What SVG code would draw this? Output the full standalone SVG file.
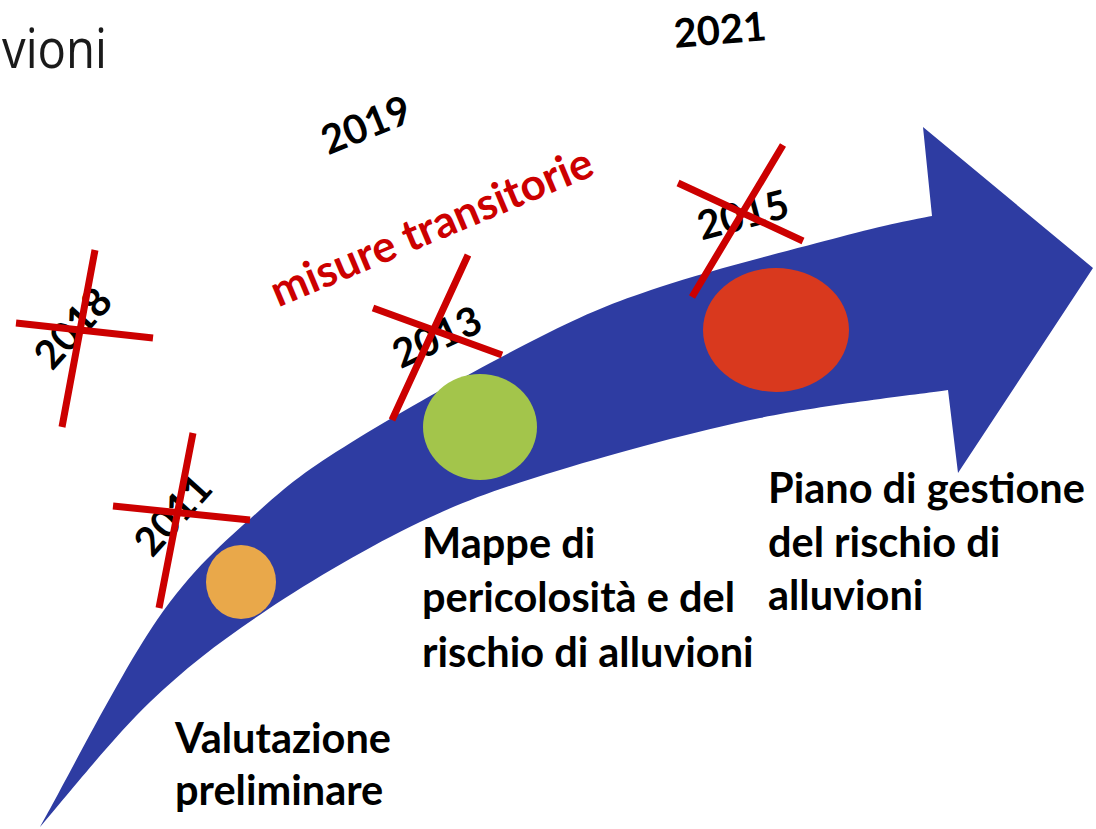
<svg xmlns="http://www.w3.org/2000/svg" width="1096" height="829" viewBox="0 0 1096 829">
<style>
.yr{font-family:Lato,"Liberation Sans",sans-serif;font-weight:bold;font-size:40px;fill:#000;text-anchor:middle}
.lbl{font-family:Lato,"Liberation Sans",sans-serif;font-weight:bold;font-size:41.5px;fill:#000}
.x{stroke:#CC0000;stroke-width:7;fill:none}
</style>
<rect width="1096" height="829" fill="#fff"/>
<text id="title" x="2" y="68" textLength="105" lengthAdjust="spacingAndGlyphs" style="font-family:'Open Sans',sans-serif;font-size:54px;fill:#1a1a1a">vioni</text>
<g id="arrow">
<path fill="#2E3CA2" d="M40,827 C59.5,793.3 120.3,673 157,620 C193.7,567 226.2,540.5 260,510 C293.8,479.5 313.3,465.8 360,437 C406.7,408.2 490,362 540,337 C590,312 610,303.7 660,287 C710,270.3 794.7,249 840,237 C885.3,225 916.7,218.7 932,216 L923,127 L1093,268 L958,473 L948,390 C916.7,394.7 824.7,404.7 760,418 C695.3,431.3 616.7,452.7 560,470 C503.3,487.3 468.8,498.7 420,522 C371.2,545.3 312,580 267,610 C222,640 187.8,665.8 150,702 C112.2,738.2 58.3,806.2 40,827 Z"/>
</g>
<g id="milestones">
<ellipse id="dot-orange" cx="241" cy="582" rx="35" ry="37" fill="#E9A84A"/>
<ellipse id="dot-green" cx="480" cy="427" rx="57" ry="53" fill="#A3C54B"/>
<ellipse id="dot-red" cx="776" cy="330" rx="73" ry="62" fill="#D9391E"/>
</g>
<g id="years">
<text class="yr" transform="translate(720,30) rotate(-5)" y="14">2021</text>
<text class="yr" transform="translate(366,125) rotate(-22)" y="14">2019</text>
<text class="yr" transform="translate(73,328) rotate(-48)" y="14">2018</text>
<text class="yr" transform="translate(173,515) rotate(-48)" y="14">2011</text>
<text class="yr" transform="translate(437,337) rotate(-25)" y="14">2013</text>
<text class="yr" transform="translate(743,215) rotate(-15)" y="14">2015</text>
</g>
<text id="transitorie" transform="translate(432,228) rotate(-22.7)" y="14" text-anchor="middle" style="font-family:Lato,'Liberation Sans',sans-serif;font-weight:bold;font-size:44px;fill:#CC0000">misure transitorie</text>
<g id="crosses">
<path class="x" d="M95,250 L62,427 M16,323 L153,338"/>
<path class="x" d="M193,433 L159,608 M113,506 L250,520"/>
<path class="x" d="M468,255 L392,420 M373,308 L502,355"/>
<path class="x" d="M783,145 L692,297 M678,183 L803,241"/>
</g>
<g id="label-valutazione">
<text class="lbl" x="175" y="753">Valutazione</text>
<text class="lbl" x="175" y="805">preliminare</text>
</g>
<g id="label-mappe">
<text class="lbl" x="422" y="558">Mappe di</text>
<text class="lbl" x="422" y="612">pericolosità e del</text>
<text class="lbl" x="422" y="667">rischio di alluvioni</text>
</g>
<g id="label-piano">
<text class="lbl" x="768" y="503">Piano di gestione</text>
<text class="lbl" x="768" y="557">del rischio di</text>
<text class="lbl" x="768" y="610">alluvioni</text>
</g>
</svg>
